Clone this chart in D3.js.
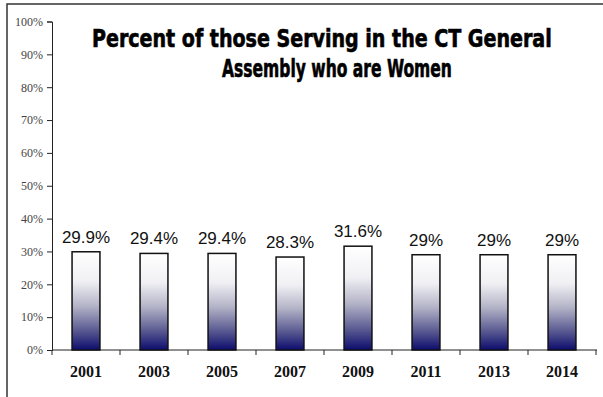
<!DOCTYPE html>
<html>
<head>
<meta charset="utf-8">
<script src="https://cdn.jsdelivr.net/npm/d3@7"></script>
<style>
  html, body { margin: 0; padding: 0; background: #fff; }
  svg { display: block; }
</style>
</head>
<body>
<script>
// data
const years = ["2001", "2003", "2005", "2007", "2009", "2011", "2013", "2014"]
const pctWomen = [29.9, 29.4, 29.4, 28.3, 31.6, 29, 29, 29]
const yTicks = [0, 10, 20, 30, 40, 50, 60, 70, 80, 90, 100]
const titleLines = ["Percent of those Serving in the CT General", "Assembly who are Women"]

const width = 603, height = 397
const margin = {top: 21.5, right: 7, bottom: 47, left: 52}

const svg = d3.select("body").append("svg")
  .attr("width", width)
  .attr("height", height)

// gradient for bars: white on top, navy at the bottom
const grad = svg.append("defs").append("linearGradient")
  .attr("id", "barGrad")
  .attr("x1", 0).attr("y1", 0).attr("x2", 0).attr("y2", 1)
grad.selectAll("stop")
  .data([[0, "#ffffff"], [0.3, "#f0f0f4"], [0.55, "#b4b4c8"], [0.8, "#5a5a92"], [1, "#0c0c6e"]])
  .join("stop")
  .attr("offset", d => d[0])
  .attr("stop-color", d => d[1])

// frame (top + left)
svg.append("path")
  .attr("d", `M7,${height} V4 H${width}`)
  .attr("fill", "none")
  .attr("stroke", "#333")
  .attr("stroke-width", 1.5)

const x = d3.scaleBand()
  .domain(years)
  .range([margin.left, width - margin.right])
  .paddingInner(0.59)
  .paddingOuter(0.295)

const y = d3.scaleLinear()
  .domain([0, 100])
  .range([height - margin.bottom, margin.top])

// y axis
const yAxis = svg.append("g")
  .attr("transform", `translate(${margin.left},0)`)
  .call(d3.axisLeft(y).tickValues(yTicks).tickFormat(d => d + "%").tickSize(5).tickPadding(4))
yAxis.select(".domain").attr("stroke", "#222")
yAxis.selectAll(".tick line").attr("stroke", "#222")
yAxis.selectAll("text")
  .attr("font-family", "'Liberation Serif', 'Times New Roman', serif")
  .attr("font-size", 12)
  .attr("fill", "#444")

// x axis line with ticks at category boundaries
const y0 = y(0)
const step = x.step()
const xStart = x(years[0]) - x.paddingOuter() * step
svg.append("line")
  .attr("x1", margin.left).attr("x2", width - margin.right + 1)
  .attr("y1", y0).attr("y2", y0)
  .attr("stroke", "#222")
svg.append("g").selectAll("line")
  .data(d3.range(years.length + 1))
  .join("line")
  .attr("x1", i => xStart + i * step)
  .attr("x2", i => xStart + i * step)
  .attr("y1", y0).attr("y2", y0 + 5)
  .attr("stroke", "#222")

// year labels
svg.append("g").selectAll("text")
  .data(years)
  .join("text")
  .attr("x", d => x(d) + x.bandwidth() / 2)
  .attr("y", y0 + 27)
  .attr("text-anchor", "middle")
  .attr("font-family", "'Liberation Serif', 'Times New Roman', serif")
  .attr("font-weight", "bold")
  .attr("font-size", 16)
  .attr("fill", "#111")
  .text(d => d)

// bars
const data = years.map((yr, i) => ({yr, v: pctWomen[i]}))
svg.append("g").selectAll("rect")
  .data(data)
  .join("rect")
  .attr("x", d => x(d.yr))
  .attr("y", d => y(d.v))
  .attr("width", x.bandwidth())
  .attr("height", d => y0 - y(d.v))
  .attr("fill", "url(#barGrad)")
  .attr("stroke", "#111")
  .attr("stroke-width", 1.5)

// value labels
svg.append("g").selectAll("text")
  .data(data)
  .join("text")
  .attr("x", d => x(d.yr) + x.bandwidth() / 2)
  .attr("y", d => y(d.v) - 9)
  .attr("text-anchor", "middle")
  .attr("font-family", "'Liberation Sans', Arial, sans-serif")
  .attr("font-size", 17)
  .attr("fill", "#111")
  .text(d => d.v + "%")

// title - condensed font, squeezed horizontally to fit like the original
const titleSpec = [{x: 92, y: 47, len: 460}, {x: 222, y: 77, len: 230}]
svg.append("g").selectAll("text")
  .data(titleLines)
  .join("text")
  .attr("font-family", "'DejaVu Sans Condensed', 'Liberation Sans Narrow', sans-serif")
  .attr("font-stretch", "condensed")
  .attr("font-weight", "bold")
  .attr("font-size", 24)
  .attr("fill", "#000")
  .attr("stroke", "#000")
  .attr("stroke-width", 0.6)
  .text(d => d)
  .each(function(d, i) {
    const w = this.getComputedTextLength()
    const s = titleSpec[i]
    d3.select(this).attr("transform", `translate(${s.x},${s.y}) scale(${s.len / w},1)`)
  })
</script>
</body>
</html>
